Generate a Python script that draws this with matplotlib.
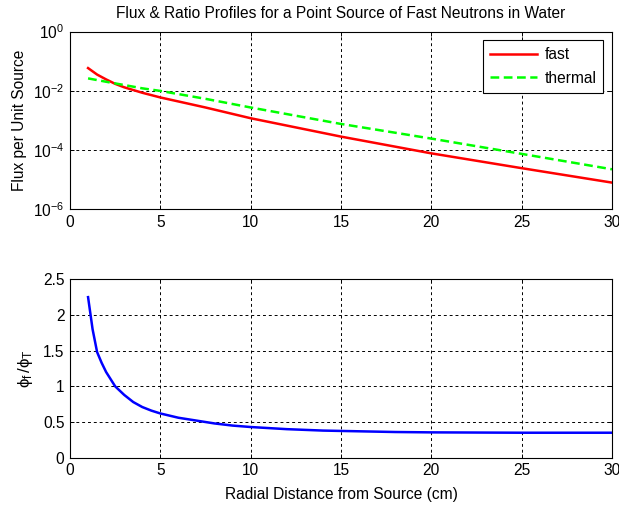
import matplotlib
matplotlib.use('Agg')
import matplotlib.pyplot as plt

plt.rcParams['font.family'] = ['Liberation Sans', 'DejaVu Sans']
plt.rcParams['mathtext.fontset'] = 'custom'
plt.rcParams['mathtext.rm'] = 'Liberation Sans'
plt.rcParams['mathtext.it'] = 'Liberation Sans'

# Flux values
x_fast = [1, 1.5, 2, 2.5, 3, 4, 5, 7.5, 10, 15, 20, 25, 30]
fast = [0.058, 0.035, 0.024, 0.017, 0.013, 0.0085, 0.0059, 0.0027,
        1.17e-3, 2.8e-4, 7.6e-5, 2.4e-5, 7.8e-6]

x_thermal = [1, 2, 3, 4, 5, 7.5, 10, 15, 20, 25, 30]
thermal = [0.026, 0.020, 0.0155, 0.012, 0.0098, 5.3e-3, 2.7e-3,
           7.5e-4, 2.4e-4, 7.3e-5, 2.2e-5]

# Fast / thermal ratio
x_ratio = [1, 1.25, 1.5, 1.75, 2, 2.5, 3, 3.5, 4, 4.5, 5, 6, 7, 8, 9, 10,
           12, 14, 16, 18, 20, 25, 30]
ratio = [2.25, 1.8, 1.48, 1.33, 1.2, 1.0, 0.88, 0.78, 0.71, 0.66, 0.62,
         0.56, 0.52, 0.48, 0.45, 0.43, 0.40, 0.38, 0.37, 0.36, 0.355,
         0.35, 0.35]

fs = 11.2
grid_kw = dict(color='black', linestyle=(0, (3, 3)), linewidth=0.7)

fig = plt.figure(figsize=(6.19, 5.07), dpi=100)
ax1 = fig.add_axes([70 / 619, 1 - 209 / 507, 542 / 619, 177.5 / 507])
ax2 = fig.add_axes([70 / 619, 1 - 457.7 / 507, 542 / 619, 178.4 / 507])

# Top: flux profiles
ax1.semilogy(x_fast, fast, color='#ff0000', lw=1.8, label='fast')
ax1.semilogy(x_thermal, thermal, color='#00ff00', lw=1.8,
             linestyle=(0, (3.5, 1.8)), label='thermal')
ax1.set_xlim(0, 30)
ax1.set_ylim(1e-6, 1e0)
ax1.set_yticks([1e-6, 1e-4, 1e-2, 1e0])
ax1.minorticks_off()
ax1.set_ylabel('Flux per Unit Source', fontsize=fs, labelpad=4)
ax1.set_title('Flux & Ratio Profiles for a Point Source of Fast Neutrons in Water',
              fontsize=fs, pad=10)
leg = ax1.legend(loc='upper right', fontsize=fs, fancybox=False,
                 edgecolor='black', framealpha=1, handlelength=3.0,
                 borderaxespad=0.55, handletextpad=0.5, labelspacing=0.55,
                 borderpad=0.45)
leg.get_frame().set_linewidth(0.8)

# Bottom: ratio
ax2.plot(x_ratio, ratio, color='#0000ff', lw=1.8)
ax2.set_xlim(0, 30)
ax2.set_ylim(0, 2.5)
ax2.set_yticks([0, 0.5, 1, 1.5, 2, 2.5])
ax2.set_yticklabels(['0', '0.5', '1', '1.5', '2', '2.5'])
ax2.set_ylabel(r'$\phi_f\,/\phi_T$', fontsize=fs + 1, labelpad=6)
ax2.set_xlabel('Radial Distance from Source (cm)', fontsize=fs, labelpad=6)

for ax in (ax1, ax2):
    ax.set_xticks([0, 5, 10, 15, 20, 25, 30])
    ax.grid(True, **grid_kw)
    ax.tick_params(direction='in', top=True, right=True, labelsize=fs,
                   length=3, width=0.7, pad=4)
    for s in ax.spines.values():
        s.set_linewidth(0.8)

fig.savefig('out.png', dpi=100)
